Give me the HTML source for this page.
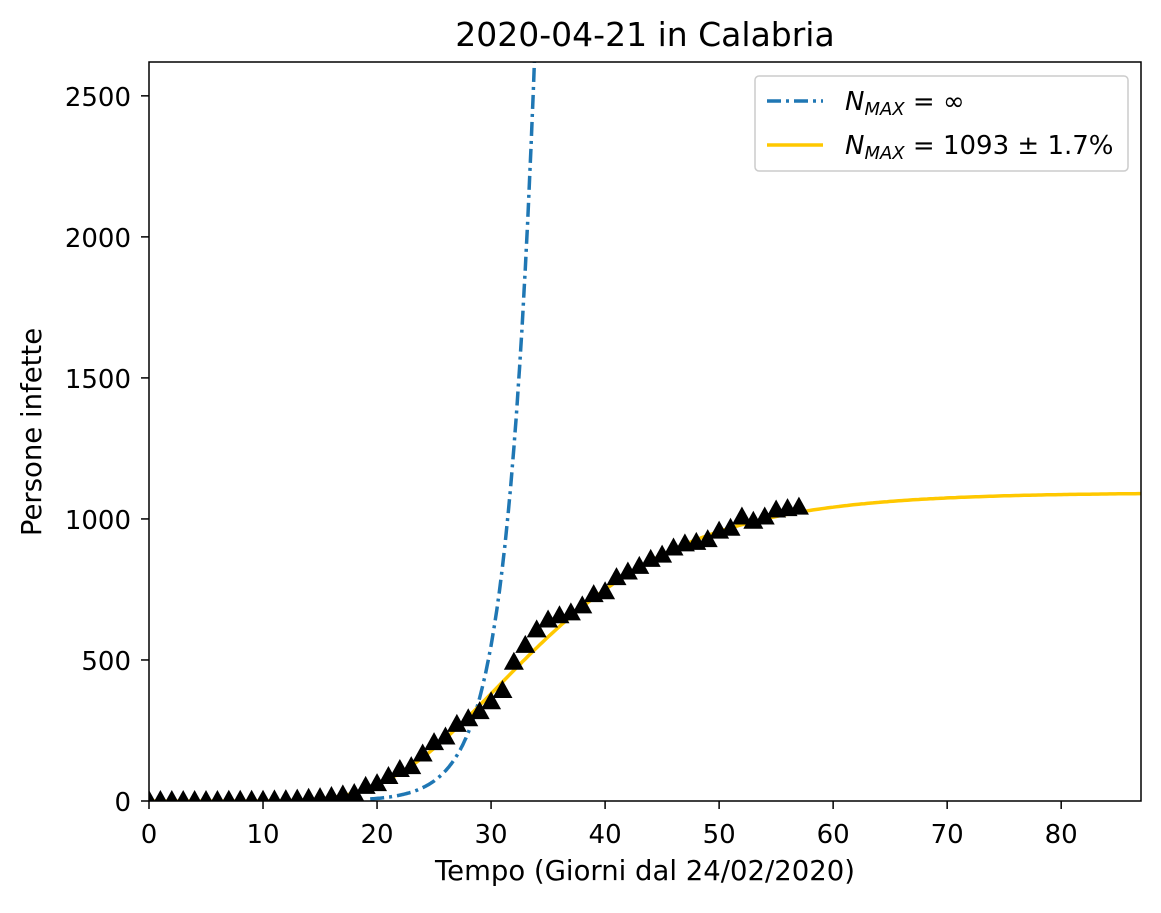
<!DOCTYPE html>
<html><head><meta charset="utf-8"><style>
body{margin:0;background:#fff;font-family:"Liberation Sans","DejaVu Sans",sans-serif}
svg text{font-family:"DejaVu Sans","Liberation Sans",sans-serif;fill:#000}
</style></head><body>
<svg id="chart" width="1161" height="908" xmlns="http://www.w3.org/2000/svg">
<rect x="0" y="0" width="1161" height="908" fill="#fff"/>
<text x="645" y="46" font-size="33" text-anchor="middle">2020-04-21 in Calabria</text>
<g id="plot"></g>
<rect x="149" y="62" width="992" height="739" fill="none" stroke="#000" stroke-width="1.5"/>
<g id="xt"></g>
<g id="yt"></g>
<text x="645" y="880" font-size="27.5" text-anchor="middle">Tempo (Giorni dal 24/02/2020)</text>
<text transform="translate(41,432) rotate(-90)" font-size="27.5" text-anchor="middle">Persone infette</text>
<g>
<rect x="755" y="76" width="373" height="95" rx="4" fill="#fff" stroke="#ccc" stroke-width="1.5"/>
<line x1="767" y1="101" x2="823" y2="101" stroke="#1f77b4" stroke-width="3.5" stroke-dasharray="14,5,3,5"/>
<text x="845" y="110" font-size="26"><tspan font-style="italic">N</tspan><tspan font-style="italic" font-size="18" dy="5">MAX</tspan><tspan dy="-5"> = ∞</tspan></text>
<line x1="767" y1="145" x2="823" y2="145" stroke="#ffc800" stroke-width="3.5"/>
<text x="845" y="154" font-size="26"><tspan font-style="italic">N</tspan><tspan font-style="italic" font-size="18" dy="5">MAX</tspan><tspan dy="-5"> = 1093 ± 1.7%</tspan></text>
</g>
</svg>
<script>
const days=[0,1,2,3,4,5,6,7,8,9,10,11,12,13,14,15,16,17,18,19,20,21,22,23,24,25,26,27,28,29,30,31,32,33,34,35,36,37,38,39,40,41,42,43,44,45,46,47,48,49,50,51,52,53,54,55,56,57];
const infected=[0,0,0,0,0,0,0,1,1,1,1,2,3,5,8,10,14,20,25,50,60,85,110,120,165,205,225,270,290,315,350,390,490,550,605,640,655,665,690,730,740,790,810,830,855,870,895,910,915,925,955,965,1005,990,1005,1030,1035,1040];
const xTicks=[0,10,20,30,40,50,60,70,80];
const yTicks=[0,500,1000,1500,2000,2500];
const gompertzParams=[1093,23.2,0.103];
const expParams=[2620,33.8,0.41];
const X0=149,X1=1141,Y0=801,Y1=62,XMAX=87,YMAX=2620;
const sx=v=>X0+(v/XMAX)*(X1-X0);
const sy=v=>Y0-(v/YMAX)*(Y0-Y1);
const NS="http://www.w3.org/2000/svg";
const plot=document.getElementById('plot');
function mk(t,a,p){const e=document.createElementNS(NS,t);for(const k in a)e.setAttribute(k,a[k]);p.appendChild(e);return e;}
const defs=mk('defs',{},plot);const cp=mk('clipPath',{id:'cp'},defs);mk('rect',{x:X0,y:Y1,width:X1-X0,height:Y0-Y1},cp);
let pe=[];for(let t=19.4;t<=34.2;t+=0.1){pe.push(sx(t).toFixed(1)+','+sy(expParams[0]*Math.exp(expParams[2]*(t-expParams[1]))).toFixed(1));}
const le=mk('polyline',{points:pe.join(' '),fill:'none',stroke:'#1f77b4','stroke-width':3.5,'stroke-dasharray':'14,5,3,5','clip-path':'url(#cp)'},plot);


let pg=[];for(let t=0;t<=87;t+=0.25){pg.push(sx(t).toFixed(1)+','+sy(gompertzParams[0]*Math.exp(-gompertzParams[1]*Math.exp(-gompertzParams[2]*t))).toFixed(1));}
const lg=mk('polyline',{points:pg.join(' '),fill:'none',stroke:'#ffc800','stroke-width':3.5,'clip-path':'url(#cp)'},plot);


days.forEach((d,i)=>{const x=sx(d),y=sy(infected[i]);
const m=mk('polygon',{points:`${x},${y-11} ${x-10},${y+7} ${x+10},${y+7}`,fill:'#000','clip-path':'url(#cp)'},plot);

});
const xt=document.getElementById('xt');
xTicks.forEach(v=>{mk('line',{x1:sx(v),y1:Y0,x2:sx(v),y2:Y0+8,stroke:'#000','stroke-width':1.5},xt);
const t=mk('text',{x:sx(v),y:Y0+42,'font-size':26,'text-anchor':'middle'},xt);t.textContent=v;

});
const yt=document.getElementById('yt');
yTicks.forEach(v=>{mk('line',{x1:X0-8,y1:sy(v),x2:X0,y2:sy(v),stroke:'#000','stroke-width':1.5},yt);
const t=mk('text',{x:X0-18,y:sy(v)+10,'font-size':26,'text-anchor':'end'},yt);t.textContent=v;

});
</script>
</body></html>
